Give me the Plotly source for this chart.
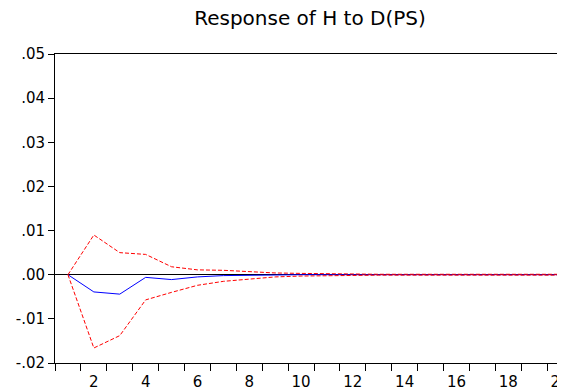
import plotly.graph_objects as go

periods = list(range(1, 21))
response = [0, -0.0039, -0.0044, -0.0006, -0.0011, -0.0005, -0.0002, -0.0001, -0.00005,
            0, 0, 0, 0, 0, 0, 0, 0, 0, 0, 0]
upper = [0, 0.0090, 0.0050, 0.0046, 0.0018, 0.0011, 0.0010, 0.0007, 0.0004, 0.0003,
         0.0002, 0.0001, 0.0001, 0.0001, 0.0001, 0.0001, 0.0001, 0.0001, 0.0001, 0.0001]
lower = [0, -0.0166, -0.0138, -0.0057, -0.0040, -0.0024, -0.0015, -0.0010, -0.0005, -0.0003,
         -0.0002, -0.0001, -0.0001, -0.0001, -0.0001, -0.0001, -0.0001, -0.0001, -0.0001, -0.0001]

y_ticks = [-0.02, -0.01, 0.0, 0.01, 0.02, 0.03, 0.04, 0.05]
y_labels = ["-.02", "-.01", ".00", ".01", ".02", ".03", ".04", ".05"]
x_ticks = [2, 4, 6, 8, 10, 12, 14, 16, 18, 20]
title = "Response of H to D(PS)"

FONT = "DejaVu Sans"

fig = go.Figure()
fig.add_trace(go.Scatter(x=periods, y=response, mode="lines",
                         line=dict(color="#0000FF", width=1), showlegend=False))
fig.add_trace(go.Scatter(x=periods, y=upper, mode="lines",
                         line=dict(color="#FF0000", width=1, dash="4px,2px"), showlegend=False))
fig.add_trace(go.Scatter(x=periods, y=lower, mode="lines",
                         line=dict(color="#FF0000", width=1, dash="4px,2px"), showlegend=False))

# page body has an 8px margin, so the figure is offset by (8, 8)
fig.update_layout(
    width=557, height=383,
    margin=dict(l=47, r=0, t=46, b=28, pad=0),
    paper_bgcolor="white", plot_bgcolor="white",
    font=dict(family=FONT, size=15, color="black"),
    title=dict(text=title, x=0.5, xref="paper", xanchor="center",
               y=1 - 10 / 383, yref="container", yanchor="middle",
               font=dict(family=FONT, size=20, color="black")),
)
fig.update_xaxes(
    automargin=False,
    range=[0.5, 20.19], tickmode="array", tickvals=x_ticks,
    ticks="outside", ticklen=5, tickcolor="rgba(0,0,0,0)",
    ticklabeloverflow="allow",
    minor=dict(tick0=0.5, dtick=1, ticks="outside", ticklen=7, tickcolor="black", tickwidth=1, showgrid=False),
    showline=True, linecolor="black", linewidth=1, mirror=True,
    showgrid=False, zeroline=False,
)
fig.update_yaxes(
    automargin=False,
    range=[-0.02, 0.05], tickmode="array", tickvals=y_ticks, ticktext=y_labels,
    ticks="outside", ticklen=6, tickcolor="black",
    showline=True, linecolor="black", linewidth=1,
    showgrid=False, zeroline=True, zerolinecolor="black", zerolinewidth=1,
)

fig.write_html("out.html")
